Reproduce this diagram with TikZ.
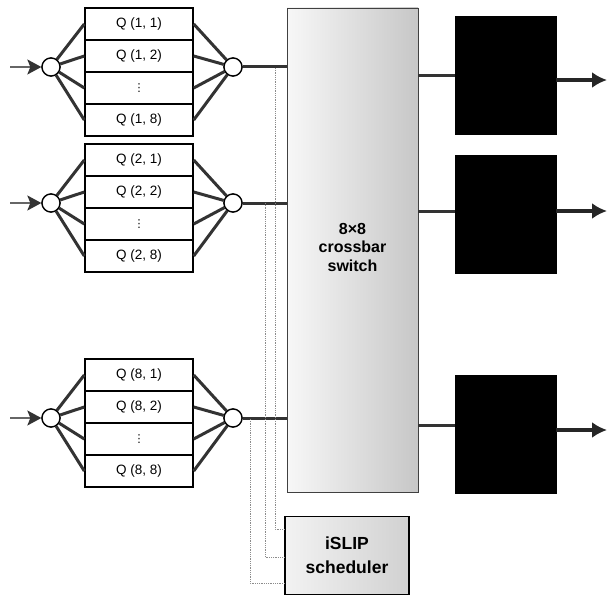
\documentclass[tikz,border=0pt]{standalone}
\usepackage{fontspec}
\setmainfont{Liberation Sans}
\newfontfamily\dejavu{DejaVu Sans}
\usetikzlibrary{arrows.meta,calc}
\begin{document}
\begin{tikzpicture}[x=1pt,y=-1pt,
  qrow/.style={draw=black,line width=1.4pt,fill=white,minimum width=108pt,minimum height=32pt,inner sep=0pt,font=\fontsize{13.5}{15}\selectfont},
  hub/.style={circle,draw=black,line width=1.3pt,fill=white,minimum size=18pt,inner sep=0pt},
  fan/.style={draw=black!80,line width=3pt},
  link/.style={draw=black!80,line width=3pt},
  inarrow/.style={draw=black!60,line width=1.8pt,-{Stealth[length=14pt,width=15pt,inset=3pt,black!80]}},
  outarrow/.style={draw=black!85,line width=4.5pt,-{Latex[length=15pt,width=16pt]}},
  outbox/.style={fill=black,draw=black,minimum width=101pt,minimum height=118pt,inner sep=0pt},
  ctrl/.style={draw=black!45,line width=0.8pt,densely dotted},
]
\useasboundingbox (0,0) rectangle (612,596);

% crossbar switch
\node[draw=black!75,line width=0.9pt,left color=black!3,right color=black!22,
      minimum width=131pt,minimum height=484pt,inner sep=0pt] (xbar) at (352.5,250) {};
\node[align=center,font=\bfseries\fontsize{16}{18.5}\selectfont] (xlabel) at (352.5,247)
      {8\texttimes8\\crossbar\\switch};

% scheduler
\node[draw=black,line width=1.3pt,left color=black!5,right color=black!18,
      minimum width=124pt,minimum height=78pt,inner sep=0pt,align=center,
      font=\bfseries\fontsize{17.5}{24}\selectfont] (sched) at (347,555.5) {iSLIP\\scheduler};

% queue groups
\foreach \g/\T in {1/8,2/144,8/359}{
  \node[qrow] (q\g a) at (139,\T+16) {Q (\g, 1)};
  \node[qrow] (q\g b) at (139,\T+48) {Q (\g, 2)};
  \node[qrow,font=\dejavu\fontsize{11}{12}\selectfont] (q\g c) at (139,\T+80) {⋮};
  \node[qrow] (q\g d) at (139,\T+112) {Q (\g, 8)};
  \node[hub] (in\g) at (51,\T+59) {};
  \node[hub] (out\g) at (233,\T+59) {};
  \coordinate (src\g) at (10,\T+59);
  \foreach \r in {a,b,c,d}{
    \draw[fan] (in\g) -- (q\g\r.west);
    \draw[fan] (q\g\r.east) -- (out\g);
  }
  \node[hub] at (in\g) {};
  \node[hub] at (out\g) {};
  \draw[inarrow] (src\g) -- (in\g.west);
  \draw[link] (out\g.east) -- (out\g -| xbar.west);
}

% output ports
\node[outbox] (b1) at (505.5,75) {};
\node[outbox] (b2) at (505.5,214) {};
\node[outbox] (b8) at (505.5,434) {};
\coordinate (l1) at (0,76);
\coordinate (l2) at (0,211);
\coordinate (l8) at (0,425);
\coordinate (e1) at (607,80);
\coordinate (e2) at (607,211);
\coordinate (e8) at (607,430);
\foreach \k in {1,2,8}{
  \draw[link] (l\k -| xbar.east) -- (l\k -| b\k.west);
  \draw[outarrow] (e\k -| b\k.east) -- (e\k);
}

% control lines to the scheduler
\coordinate (c1) at (275,68);
\coordinate (c1b) at (275,529);
\coordinate (c2) at (265,203);
\coordinate (c2b) at (265,557);
\coordinate (c8) at (250,419);
\coordinate (c8b) at (250,583);
\foreach \k in {1,2,8}{
  \draw[ctrl] (c\k) -- (c\k b) -- (c\k b -| sched.west);
}
\end{tikzpicture}
\end{document}
